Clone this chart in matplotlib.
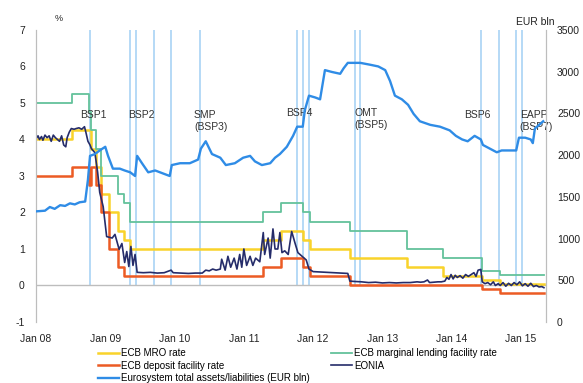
import matplotlib
matplotlib.use('Agg')
import matplotlib.pyplot as plt
import numpy as np

plt.rcParams['font.family'] = ['Liberation Sans', 'DejaVu Sans']
plt.rcParams['axes.unicode_minus'] = False

# policy rate change dates (decimal years) and levels, %
rate_dates = [2008.00, 2008.52, 2008.77, 2008.79, 2008.87, 2008.94, 2009.05, 2009.19,
              2009.27, 2009.36, 2011.28, 2011.53, 2011.86, 2011.95, 2012.53, 2013.35,
              2013.87, 2014.44, 2014.69, 2015.33]
mro_rate = [4.00, 4.25, 4.25, 3.75, 3.25, 2.50, 2.00, 1.50, 1.25, 1.00, 1.25, 1.50,
            1.25, 1.00, 0.75, 0.50, 0.25, 0.15, 0.05, 0.05]
deposit_rate = [3.00, 3.25, 2.75, 3.25, 2.75, 2.00, 1.00, 0.50, 0.25, 0.25, 0.50, 0.75,
                0.50, 0.25, 0.00, 0.00, 0.00, -0.10, -0.20, -0.20]
mlf_rate = [5.00, 5.25, 4.75, 4.25, 3.75, 3.00, 3.00, 2.50, 2.25, 1.75, 2.00, 2.25,
            2.00, 1.75, 1.50, 1.00, 0.75, 0.40, 0.30, 0.30]

# EONIA (decimal year, %)
eonia_dates = [2008.00, 2008.03, 2008.05, 2008.08, 2008.10, 2008.13, 2008.16, 2008.19,
               2008.22, 2008.25, 2008.28, 2008.31, 2008.34, 2008.37, 2008.40, 2008.43,
               2008.45, 2008.48, 2008.51, 2008.55, 2008.58, 2008.62, 2008.66, 2008.70,
               2008.72, 2008.75, 2008.78, 2008.80, 2008.85, 2008.89, 2008.92, 2008.97,
               2009.02, 2009.10, 2009.14, 2009.17, 2009.20, 2009.24, 2009.28, 2009.31,
               2009.34, 2009.37, 2009.40, 2009.43, 2009.46, 2009.55, 2009.65, 2009.75,
               2009.85, 2009.95, 2009.98, 2010.10, 2010.20, 2010.30, 2010.40, 2010.45,
               2010.50, 2010.55, 2010.60, 2010.66, 2010.68, 2010.73, 2010.77, 2010.81,
               2010.86, 2010.90, 2010.94, 2010.97, 2011.00, 2011.04, 2011.09, 2011.13,
               2011.17, 2011.23, 2011.28, 2011.30, 2011.35, 2011.38, 2011.42, 2011.45,
               2011.49, 2011.52, 2011.55, 2011.59, 2011.64, 2011.69, 2011.74, 2011.78,
               2011.84, 2011.90, 2011.94, 2012.00, 2012.10, 2012.20, 2012.30, 2012.40,
               2012.50, 2012.53, 2012.60, 2012.70, 2012.80, 2012.90, 2013.00, 2013.10,
               2013.20, 2013.30, 2013.40, 2013.50, 2013.55, 2013.60, 2013.65, 2013.68,
               2013.75, 2013.80, 2013.85, 2013.90, 2013.93, 2013.96, 2013.99, 2014.02,
               2014.05, 2014.08, 2014.12, 2014.16, 2014.20, 2014.24, 2014.28, 2014.32,
               2014.35, 2014.38, 2014.42, 2014.44, 2014.48, 2014.52, 2014.56, 2014.60,
               2014.63, 2014.67, 2014.70, 2014.74, 2014.78, 2014.82, 2014.86, 2014.90,
               2014.94, 2014.98, 2015.02, 2015.06, 2015.10, 2015.14, 2015.18, 2015.22,
               2015.26, 2015.30, 2015.33]
eonia = [4.02, 4.10, 4.00, 4.08, 3.98, 4.12, 4.05, 4.10,
         3.95, 4.12, 4.05, 4.00, 3.95, 4.10, 3.85, 3.80,
         4.05, 4.20, 4.30, 4.28, 4.30, 4.32, 4.28, 4.35,
         4.20, 3.95, 3.85, 3.75, 3.64, 3.10, 2.55, 2.16,
         1.34, 1.30, 1.40, 1.20, 0.99, 1.15, 0.63, 0.93,
         0.52, 1.07, 0.55, 0.85, 0.36, 0.35, 0.36, 0.34,
         0.35, 0.42, 0.35, 0.34, 0.33, 0.34, 0.34, 0.42,
         0.40, 0.45, 0.42, 0.45, 0.72, 0.42, 0.80, 0.50,
         0.75, 0.45, 0.85, 0.50, 1.00, 0.55, 0.80, 0.55,
         0.75, 0.65, 1.45, 0.85, 1.30, 0.75, 1.55, 1.00,
         1.00, 1.45, 0.90, 0.95, 0.85, 1.48, 1.15, 0.90,
         0.80, 0.70, 0.45, 0.38, 0.37, 0.36, 0.35, 0.34,
         0.33, 0.12, 0.11, 0.10, 0.08, 0.09, 0.07, 0.08,
         0.07, 0.08, 0.08, 0.10, 0.09, 0.10, 0.15, 0.08,
         0.09, 0.10, 0.10, 0.12, 0.22, 0.17, 0.30, 0.18,
         0.28, 0.22, 0.27, 0.20, 0.30, 0.25, 0.30, 0.35,
         0.25, 0.42, 0.44, 0.10, 0.05, 0.08, 0.02, 0.10,
         0.00, 0.05, 0.00, 0.08, -0.02, 0.06, 0.00, 0.08,
         0.02, 0.10, -0.01, 0.05, -0.02, 0.06, -0.03, 0.00,
         -0.04, -0.03, -0.06]

# Eurosystem total assets/liabilities (decimal year, EUR bln)
assets_dates = [2008.00, 2008.13, 2008.20, 2008.27, 2008.35, 2008.42, 2008.49, 2008.56,
                2008.63, 2008.71, 2008.75, 2008.78, 2008.85, 2008.92, 2009.00, 2009.04,
                2009.11, 2009.21, 2009.28, 2009.36, 2009.43, 2009.46, 2009.53, 2009.62,
                2009.72, 2009.79, 2009.86, 2009.93, 2009.96, 2010.08, 2010.22, 2010.34,
                2010.38, 2010.45, 2010.54, 2010.66, 2010.74, 2010.87, 2010.99, 2011.09,
                2011.16, 2011.26, 2011.38, 2011.45, 2011.52, 2011.62, 2011.71, 2011.77,
                2011.85, 2011.88, 2011.94, 2012.03, 2012.10, 2012.17, 2012.27, 2012.39,
                2012.44, 2012.50, 2012.68, 2012.82, 2012.94, 2013.04, 2013.11, 2013.18,
                2013.28, 2013.37, 2013.45, 2013.54, 2013.69, 2013.83, 2013.97, 2014.06,
                2014.15, 2014.23, 2014.33, 2014.42, 2014.45, 2014.55, 2014.65, 2014.72,
                2014.84, 2014.93, 2014.97, 2015.06, 2015.14, 2015.17, 2015.20, 2015.32]
total_assets = [1326, 1334, 1378, 1356, 1400, 1391, 1422, 1409,
                1435, 1444, 1706, 1991, 2013, 2056, 2100, 1991,
                1838, 1838, 1816, 1794, 1750, 1991, 1903, 1794,
                1816, 1794, 1772, 1750, 1881, 1903, 1903, 1947,
                2078, 2166, 2013, 1969, 1881, 1903, 1969, 1991,
                1925, 1881, 1903, 1969, 2013, 2100, 2231, 2341,
                2341, 2538, 2713, 2691, 2669, 3019, 2997, 2975,
                3041, 3106, 3106, 3084, 3063, 3019, 2888, 2713,
                2669, 2603, 2494, 2406, 2363, 2341, 2297, 2231,
                2188, 2166, 2231, 2188, 2122, 2078, 2034, 2056,
                2056, 2056, 2209, 2209, 2188, 2144, 2319, 2406]

# programme announcement dates
event_dates = [2008.78, 2009.36, 2009.44, 2009.70, 2009.95, 2010.37, 2011.77, 2011.85,
               2011.94, 2012.60, 2012.68, 2014.42, 2014.68, 2014.93, 2015.01]
year_ticks = [2008, 2009, 2010, 2011, 2012, 2013, 2014, 2015]
year_labels = ['Jan 08', 'Jan 09', 'Jan 10', 'Jan 11', 'Jan 12', 'Jan 13', 'Jan 14', 'Jan 15']

fig = plt.figure(figsize=(5.83, 3.83), dpi=100)
ax = fig.add_axes([0.0617, 0.1593, 0.8748, 0.7624])
ax2 = ax.twinx()

ax.vlines(event_dates, 0, 7, color='#A9D3F5', lw=1.2, zorder=1)
ax.axhline(0, color='#BDBDBD', lw=1, zorder=1)

l_mro, = ax.step(rate_dates, mro_rate, where='post', color='#F9D32A', lw=1.8, zorder=3)
l_dep, = ax.step(rate_dates, deposit_rate, where='post', color='#EC5B24', lw=1.8, zorder=3)
l_mlf, = ax.step(rate_dates, mlf_rate, where='post', color='#63C29B', lw=1.3, zorder=3)
l_eon, = ax.plot(eonia_dates, eonia, color='#252C6A', lw=1.2, zorder=4)
l_ast, = ax2.plot(assets_dates, total_assets, color='#2F8CE6', lw=1.7, zorder=3)

ax.set_xlim(2008.0, 2015.36)
ax.set_ylim(-1, 7)
ax2.set_ylim(0, 3500)
ax.set_yticks(range(-1, 8))
ax2.set_yticks(range(0, 3501, 500))
ax.set_xticks(year_ticks)
ax.set_xticklabels(year_labels)

for a in (ax, ax2):
    a.spines['top'].set_visible(False)
    a.spines['bottom'].set_visible(False)
    a.spines['left'].set_color('#BDBDBD')
    a.spines['right'].set_color('#BDBDBD')
    a.tick_params(length=0, labelsize=7.5, colors='#222222')
ax.tick_params(axis='x', pad=9)
ax.tick_params(axis='y', pad=8)
ax2.tick_params(axis='y', pad=8)

ax.text(2008.27, 7.25, '%', fontsize=6.5, color='#222222')
ax.text(2015.2, 7.15, 'EUR bln', fontsize=7.5, color='#222222', ha='center')

lab = dict(fontsize=7.5, color='#333333', va='top', linespacing=1.2)
ax.text(2008.63, 4.8, 'BSP1', **lab)
ax.text(2009.33, 4.8, 'BSP2', **lab)
ax.text(2010.28, 4.8, 'SMP\n(BSP3)', **lab)
ax.text(2011.61, 4.85, 'BSP4', **lab)
ax.text(2012.59, 4.85, 'OMT\n(BSP5)', **lab)
ax.text(2014.18, 4.8, 'BSP6', **lab)
ax.text(2014.98, 4.8, 'EAPP\n(BSP7)', **lab)

fig.legend([l_mro, l_dep, l_ast, l_mlf, l_eon],
           ['ECB MRO rate', 'ECB deposit facility rate',
            'Eurosystem total assets/liabilities (EUR bln)',
            'ECB marginal lending facility rate', 'EONIA'],
           ncol=2, loc='upper left', bbox_to_anchor=(0.168, 0.091),
           frameon=False, fontsize=7, handlelength=2.2, handletextpad=0.15,
           labelspacing=0.25, columnspacing=2.2, borderpad=0, borderaxespad=0)

fig.savefig('out.png', dpi=100)
